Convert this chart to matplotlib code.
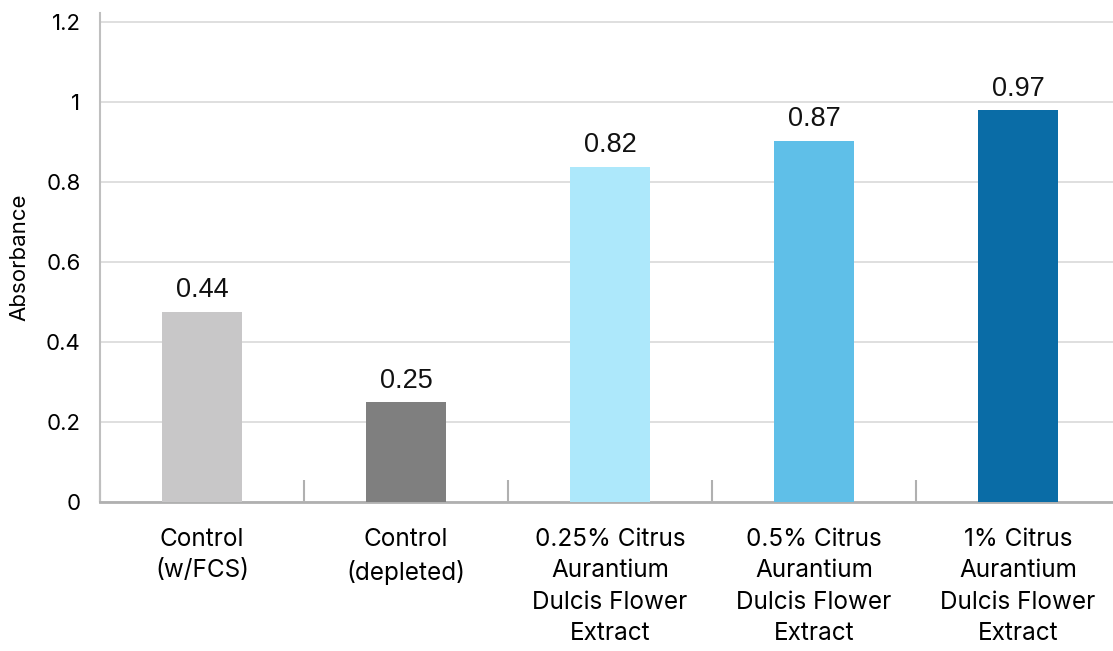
import matplotlib
matplotlib.use("Agg")
import matplotlib.pyplot as plt
import numpy as np

categories = ["Control\n(w/FCS)", "Control\n(depleted)",
              "0.25% Citrus\nAurantium\nDulcis Flower\nExtract",
              "0.5% Citrus\nAurantium\nDulcis Flower\nExtract",
              "1% Citrus\nAurantium\nDulcis Flower\nExtract"]
bar_heights = [0.476, 0.249, 0.838, 0.903, 0.980]
value_labels = ["0.44", "0.25", "0.82", "0.87", "0.97"]
colors = ["#c8c7c8", "#7f7f7f", "#ade8fb", "#5fbfe8", "#0a6ca6"]
yticks = [0, 0.2, 0.4, 0.6, 0.8, 1.0, 1.2]
ytick_labels = ["0", "0.2", "0.4", "0.6", "0.8", "1", "1.2"]

W, H = 1113, 651
fig = plt.figure(figsize=(W / 100, H / 100), dpi=100)
ax = fig.add_axes([100 / W, (H - 502) / H, 1 - 100 / W, (502 - 13) / H])

x = np.arange(len(categories))
ax.bar(x, bar_heights, width=0.39, color=colors, zorder=3)

for xi, h, lab in zip(x, bar_heights, value_labels):
    ax.annotate(lab, (xi, h), xytext=(0, 6), textcoords="offset points",
                ha="center", va="bottom", fontsize=19.5,
                family="Liberation Sans", color="#111111")

ax.set_xlim(-0.5, 4.5 - 7 / 204)
ax.set_ylim(0, 1.222)

ax.set_yticks(yticks)
ax.set_yticklabels(ytick_labels, family="Inter", fontsize=16)
ax.set_xticks(x)
ax.set_xticklabels(categories, family="Inter", fontsize=17.5, linespacing=1.45)
ax.tick_params(axis="x", which="major", length=0, pad=19)
ax.tick_params(axis="y", length=0, pad=14)
ax.set_xticks(np.arange(-0.5, 4.5, 1), minor=True)
ax.tick_params(axis="x", which="minor", direction="in", length=16,
               width=1.5, color="#b0b0b0")

ax.yaxis.grid(True, color="#d9d9d9", linewidth=1.2, zorder=0)
for s in ["top", "right"]:
    ax.spines[s].set_visible(False)
ax.spines["left"].set_color("#bfbfbf")
ax.spines["left"].set_linewidth(1.5)
ax.spines["bottom"].set_color("#b0b0b0")
ax.spines["bottom"].set_linewidth(2)

ax.set_ylabel("Absorbance", family="Inter", fontsize=16, labelpad=12)

fig.savefig("out.png", dpi=100)
